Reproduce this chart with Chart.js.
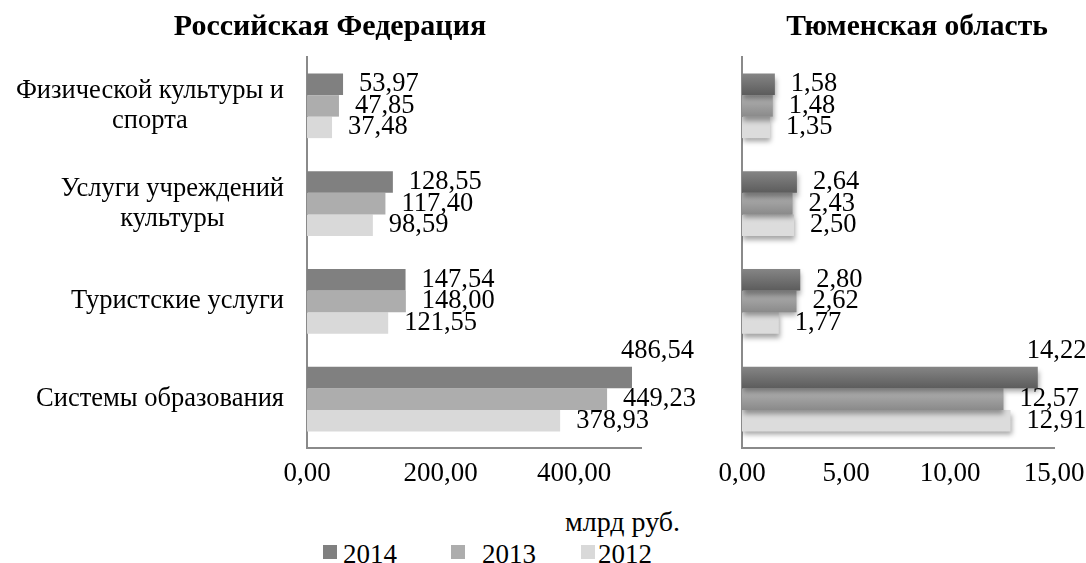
<!DOCTYPE html>
<html lang="ru">
<head>
<meta charset="utf-8">
<script src="https://cdn.jsdelivr.net/npm/chart.js@4"></script>
<style>
  body { margin: 0; background: #fff; width: 1086px; height: 563px; overflow: hidden; position: relative; font-family: "Liberation Serif", "Times New Roman", serif; color: #000; }
  canvas { position: absolute; top: 0; }
  #rf { left: 0; }
  #tyum { left: 690px; }
  .title { position: absolute; top: 8px; font-weight: bold; line-height: 34px; transform: translateX(-50%); white-space: nowrap; }
  .unit { position: absolute; left: 565px; top: 506px; font-size: 28px; line-height: 32px; }
  .leg { position: absolute; top: 538px; font-size: 27px; line-height: 32px; height: 32px; }
  .leg i { position: absolute; top: 7px; width: 14px; height: 14px; }
</style>
</head>
<body>
<canvas id="rf" width="700" height="500"></canvas>
<canvas id="tyum" width="396" height="500"></canvas>
<div class="title" style="left:330px; font-size:30px">Российская Федерация</div>
<div class="title" style="left:917px; font-size:29.5px">Тюменская область</div>
<div class="unit">млрд руб.</div>
<div id="legend"></div>
<script>
// Категории (строки подписи)
const categories = [
    ["Физической культуры и", "спорта"],
    ["Услуги учреждений", "культуры"],
    ["Туристские услуги"],
    ["Системы образования"]
];
const years = ["2014", "2013", "2012"];

// Российская Федерация, млрд руб.
const rf2014 = [53.97, 128.55, 147.54, 486.54];
const rf2013 = [47.85, 117.40, 148.00, 449.23];
const rf2012 = [37.48, 98.59, 121.55, 378.93];
const rfTicks = [0, 200, 400];

// Тюменская область, млрд руб.
const ty2014 = [1.58, 2.64, 2.80, 14.22];
const ty2013 = [1.48, 2.43, 2.62, 12.57];
const ty2012 = [1.35, 2.50, 1.77, 12.91];
const tyTicks = [0, 5, 10, 15];

// Цвета
const flatColors = ['#808080', '#adadad', '#d9d9d9'];
const shadeTop = ['#858585', '#b3b3b3', '#dcdcdc'];
const shadeBottom = ['#5c5c5c', '#8a8a8a', '#dcdcdc'];

const FONT = '"Liberation Serif", "Times New Roman", serif';

function fmt(v) {
    return v.toFixed(2).replace('.', ',');
}

// Подписи значений справа от столбиков
const valueLabels = {
    id: 'valueLabels',
    afterDatasetsDraw(chart) {
        const ctx = chart.ctx;
        const all = chart.data.datasets.flatMap(d => d.data);
        const maxVal = Math.max(...all);
        ctx.save();
        ctx.font = '26.5px ' + FONT;
        ctx.fillStyle = '#000';
        ctx.textBaseline = 'middle';
        ctx.textAlign = 'left';
        chart.data.datasets.forEach((ds, di) => {
            chart.getDatasetMeta(di).data.forEach((bar, i) => {
                const v = ds.data[i];
                if (v === maxVal) {
                    ctx.fillText(fmt(v), bar.x - 11, bar.y - bar.height / 2 - 16);
                } else {
                    ctx.fillText(fmt(v), bar.x + 16, bar.y);
                }
            });
        });
        ctx.restore();
    }
};

// Подписи категорий: блок по правому краю, строки по центру
const categoryLabels = {
    id: 'categoryLabels',
    afterDraw(chart) {
        const ctx = chart.ctx;
        const ys = chart.scales.y;
        ctx.save();
        ctx.font = '26.5px ' + FONT;
        ctx.fillStyle = '#000';
        ctx.textBaseline = 'middle';
        ctx.textAlign = 'center';
        categories.forEach((lines, i) => {
            const w = Math.max(...lines.map(l => ctx.measureText(l).width));
            const cx = 284 - w / 2;
            const cy = ys.getPixelForValue(i);
            const lh = 30;
            lines.forEach((l, k) => {
                ctx.fillText(l, cx, cy + (k - (lines.length - 1) / 2) * lh);
            });
        });
        ctx.restore();
    }
};

// Градиент и тень для столбиков Тюменской области
const barShade = {
    id: 'barShade',
    beforeDatasetsDraw(chart) {
        const ctx = chart.ctx;
        chart.data.datasets.forEach((ds, di) => {
            chart.getDatasetMeta(di).data.forEach(bar => {
                const top = bar.y - bar.height / 2;
                const g = ctx.createLinearGradient(0, top, 0, top + bar.height);
                g.addColorStop(0, shadeTop[di]);
                g.addColorStop(1, shadeBottom[di]);
                bar.options = Object.assign({}, bar.options, { backgroundColor: g });
            });
        });
    },
    beforeDatasetDraw(chart) {
        const ctx = chart.ctx;
        ctx.save();
        ctx.shadowColor = 'rgba(0,0,0,0.35)';
        ctx.shadowBlur = 5;
        ctx.shadowOffsetX = 1;
        ctx.shadowOffsetY = 4;
    },
    afterDatasetDraw(chart) {
        chart.ctx.restore();
    }
};

function makeChart(id, series, ticks, max, yWidth, pad, plugins) {
    return new Chart(document.getElementById(id), {
        type: 'bar',
        data: {
            labels: categories.map(c => c.join(' ')),
            datasets: series.map((d, i) => ({
                label: years[i],
                data: d,
                backgroundColor: flatColors[i],
                borderWidth: 0,
                categoryPercentage: 0.66,
                barPercentage: 1.0
            }))
        },
        options: {
            indexAxis: 'y',
            responsive: false,
            animation: false,
            layout: { padding: { top: 57, right: pad, bottom: 0, left: 0 } },
            plugins: { legend: { display: false }, tooltip: { enabled: false } },
            scales: {
                x: {
                    min: 0, max: max,
                    grid: { display: false, drawTicks: false },
                    border: { display: true, color: '#8a8a8a', width: 2 },
                    afterBuildTicks: s => { s.ticks = ticks.map(v => ({ value: v })); },
                    afterFit: s => { s.height = 52; s.paddingLeft = 0; s.paddingRight = 0; },
                    ticks: {
                        padding: 10,
                        color: '#000',
                        font: { family: FONT, size: 27 },
                        callback: v => fmt(v)
                    }
                },
                y: {
                    grid: { display: false, drawTicks: false },
                    border: { display: true, color: '#8a8a8a', width: 2 },
                    ticks: { display: false },
                    afterFit: s => { s.width = yWidth; s.paddingTop = 0; s.paddingBottom = 0; }
                }
            }
        },
        plugins: plugins
    });
}

makeChart('rf', [rf2014, rf2013, rf2012], rfTicks, 500, 307, 59, [valueLabels, categoryLabels]);
makeChart('tyum', [ty2014, ty2013, ty2012], tyTicks, 15, 52, 32, [barShade, valueLabels]);

// Общая легенда
const legendX = [323, 451, 581];
const legendTextX = [343, 482, 598];
document.getElementById('legend').innerHTML = years.map((y, i) =>
    `<div class="leg" style="left:${legendX[i]}px; width:${legendTextX[i] - legendX[i] + 60}px">
        <i style="left:0; background:${flatColors[i]}"></i>
        <span style="position:absolute; left:${legendTextX[i] - legendX[i]}px">${y}</span>
    </div>`
).join('');
</script>
</body>
</html>
